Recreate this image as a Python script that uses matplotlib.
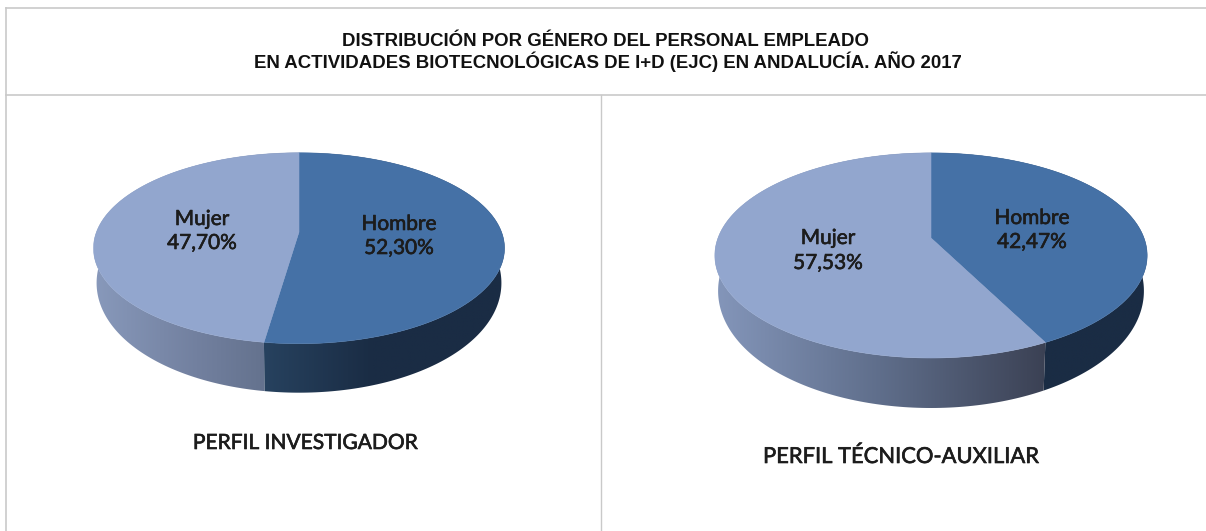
import numpy as np
import matplotlib
matplotlib.use("Agg")
import matplotlib.pyplot as plt
import matplotlib.patheffects as pe
from matplotlib.colors import LinearSegmentedColormap
from matplotlib.patches import Polygon

title_lines = ["DISTRIBUCIÓN POR GÉNERO DEL PERSONAL EMPLEADO",
               "EN ACTIVIDADES BIOTECNOLÓGICAS DE I+D (EJC) EN ANDALUCÍA. AÑO 2017"]
categories = ["Hombre", "Mujer"]
investigador = [52.30, 47.70]
tecnico = [42.47, 57.53]
pie_names = ["PERFIL INVESTIGADOR", "PERFIL TÉCNICO-AUXILIAR"]

top_colors = ["#4571a6", "#92a6ce"]
grey = "#c9c9c9"
text_color = "#1c1c1c"
label_font = ["Lato", "DejaVu Sans"]
tilt = 0.17  # perspective of the disc
heavier = [pe.withStroke(linewidth=0.45, foreground=text_color)]


def project(u, v, cx, cy, w, h, depth=0.0, shrink=1.0):
    s = 1 / (1 + tilt * v)
    # the lower rim drops less at the sides than at the front
    drop = depth * (0.65 - 0.35 * v)
    return cx + w * shrink * u * s, cy + h * v * -1 * s + drop


def arc(a0, a1, cx, cy, w, h, depth=0.0, shrink=1.0):
    # angles clockwise from 12 o'clock
    t = np.radians(np.linspace(a0, a1, 200))
    return project(np.sin(t), np.cos(t), cx, cy, w, h, depth, shrink)


def draw_pie(ax, values, cx, cy, w, h, depth, wall_stops):
    angles = np.cumsum([0] + values) * 360 / sum(values)
    for i, val in enumerate(values):
        a0, a1 = angles[i], angles[i + 1]
        # side wall, gradient image clipped to the band under the arc
        x1, y1 = arc(a0, a1, cx, cy, w, h)
        x2, y2 = arc(a0, a1, cx, cy, w, h, depth, 0.985)
        pts = np.column_stack([np.r_[x1, x2[::-1]], np.r_[y1, y2[::-1]]])
        band = Polygon(pts, closed=True, fc="none", ec="none", transform=ax.transData)
        ax.add_patch(band)
        ext = [pts[:, 0].min(), pts[:, 0].max(), pts[:, 1].max(), pts[:, 1].min()]
        cmap = LinearSegmentedColormap.from_list("wall", wall_stops[i])
        img = ax.imshow(np.linspace(0, 1, 256).reshape(1, -1), cmap=cmap, extent=ext,
                        aspect="auto", zorder=2, interpolation="bilinear")
        img.set_clip_path(band)
    for i, val in enumerate(values):
        x, y = arc(angles[i], angles[i + 1], cx, cy, w, h)
        ax.add_patch(Polygon(np.column_stack([np.r_[cx, x], np.r_[cy, y]]), closed=True,
                             fc=top_colors[i], ec=top_colors[i], lw=0.4, zorder=3))


fig = plt.figure(figsize=(12.06, 5.31), dpi=100)
ax = fig.add_axes([0, 0, 1, 1])
ax.set_xlim(0, 1206)
ax.set_ylim(531, 0)
ax.axis("off")

# table lines
ax.plot([6, 1206], [8, 8], color=grey, lw=1.2)
ax.plot([6, 1206], [95, 95], color=grey, lw=1.2)
ax.plot([6, 6], [8, 531], color=grey, lw=1.2)
ax.plot([601, 601], [95, 531], color=grey, lw=1.0)

ax.text(605, 42, title_lines[0], ha="center", va="center", fontsize=13.45,
        fontweight="bold", family="Liberation Sans", color="#111111")
ax.text(608, 62, title_lines[1], ha="center", va="center", fontsize=13.45,
        fontweight="bold", family="Liberation Sans", color="#111111")

draw_pie(ax, investigador, 299, 232, 202.5, 92.7, 49,
         [[(0, "#27425f"), (0.45, "#1a2c44"), (1, "#1a2c44")],
          [(0, "#8899bb"), (0.5, "#72809f"), (1, "#5d6b85")]])
draw_pie(ax, tecnico, 931, 238, 213, 99.6, 50,
         [[(0, "#1a2c44"), (1, "#1a2c44")],
          [(0, "#8496ba"), (0.5, "#5f6e8b"), (1, "#3b4154")]])


def fmt(v):
    return f"{v:.2f}%".replace(".", ",")


def slice_label(x, y1, y2, name, val):
    for y, s in [(y1, name), (y2, fmt(val))]:
        ax.text(x, y, s, ha="center", va="center", fontsize=15, family=label_font,
                color=text_color, zorder=5, path_effects=heavier)


slice_label(399, 224, 248, categories[0], investigador[0])
slice_label(202, 219, 243, categories[1], investigador[1])
slice_label(1032, 218, 242, categories[0], tecnico[0])
slice_label(828, 238, 263, categories[1], tecnico[1])

ax.text(305, 443, pie_names[0], ha="center", va="center", fontsize=15.1, family=label_font,
        color=text_color, path_effects=heavier)
ax.text(901, 457, pie_names[1], ha="center", va="center", fontsize=15.8, family=label_font,
        color=text_color, path_effects=heavier)

fig.savefig("out.png", dpi=100)
